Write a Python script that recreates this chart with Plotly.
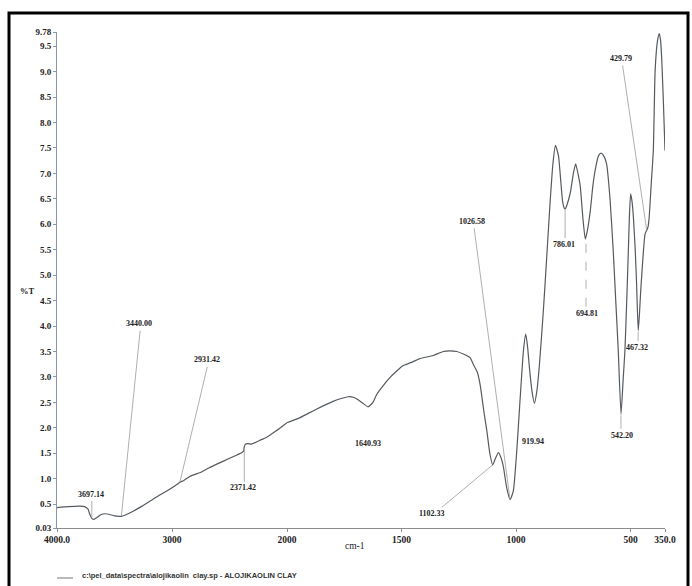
import plotly.graph_objects as go

# ---------------- data ----------------
wn_high = [4000, 3900, 3800, 3760, 3730, 3715, 3697, 3680, 3650, 3620, 3580, 3550, 3500, 3460,
           3440, 3400, 3338, 3260, 3190, 3120, 3042, 2980, 2931, 2900, 2840, 2754, 2680, 2606,
           2500, 2395, 2378, 2371, 2360, 2340, 2310, 2296, 2240, 2180, 2100, 2000]
t_high = [0.43, 0.45, 0.46, 0.45, 0.40, 0.30, 0.22, 0.20, 0.24, 0.29, 0.31, 0.30, 0.27, 0.26,
          0.26, 0.29, 0.36, 0.46, 0.56, 0.66, 0.76, 0.85, 0.93, 0.96, 1.05, 1.12, 1.21, 1.29,
          1.40, 1.51, 1.54, 1.63, 1.68, 1.69, 1.68, 1.69, 1.75, 1.81, 1.93, 2.10]

wn_low = [2000, 1943, 1870, 1799, 1760, 1734, 1710, 1690, 1665, 1646, 1625, 1608, 1580, 1550,
          1520, 1494, 1460, 1420, 1362, 1318, 1290, 1259, 1230, 1201, 1187, 1170, 1157, 1140,
          1128, 1114, 1102, 1090, 1077, 1065, 1055, 1041, 1026, 1012, 997, 983, 968, 958, 950,
          942, 930, 920, 910, 899, 881, 867, 852, 839, 828, 815, 805, 797, 790, 786, 778, 763,
          750, 740, 730, 720, 708, 698, 690, 676, 665, 655, 640, 629, 618, 605, 590, 576, 565,
          554, 542, 532, 525, 517, 510, 505, 500, 494, 488, 480, 474, 467, 462, 456, 447, 437,
          430, 424, 419, 410, 401, 393, 383, 375, 369, 364, 357, 350]
t_low = [2.10, 2.20, 2.37, 2.52, 2.58, 2.61, 2.60, 2.55, 2.47, 2.41, 2.50, 2.66, 2.83, 2.99,
         3.12, 3.22, 3.28, 3.36, 3.42, 3.50, 3.51, 3.50, 3.45, 3.38, 3.25, 3.10, 2.85, 2.30,
         1.95, 1.48, 1.27, 1.40, 1.51, 1.40, 1.22, 0.82, 0.59, 0.76, 1.55, 2.53, 3.51, 3.84, 3.60,
         3.19, 2.70, 2.48, 2.70, 3.19, 4.30, 5.30, 6.40, 7.20, 7.55, 7.35, 6.85, 6.45, 6.32, 6.30, 6.38, 6.63,
         7.00, 7.19, 7.00, 6.75, 6.10, 5.71, 5.85, 6.27, 6.75, 7.06, 7.35, 7.40, 7.35, 7.19, 6.50, 5.48, 4.50,
         3.51, 2.27, 3.00, 3.51, 4.50, 5.48, 6.20, 6.60, 6.45, 6.14, 5.50, 4.83, 3.91, 4.20, 4.69, 5.30, 5.81,
         5.88, 5.95, 6.14, 6.80, 7.45, 9.03, 9.60, 9.75, 9.60, 9.22, 8.40, 7.45]

x_ticks_high = [4000, 3000, 2000]
x_ticktext_high = ["4000.0", "3000", "2000"]
x_ticks_low = [1500, 1000, 500, 350]
x_ticktext_low = ["1500", "1000", "500", "350.0"]
y_ticks = [0.03, 0.5, 1.0, 1.5, 2.0, 2.5, 3.0, 3.5, 4.0, 4.5, 5.0, 5.5, 6.0, 6.5, 7.0, 7.5,
           8.0, 8.5, 9.0, 9.5, 9.78]
y_ticktext = ["0.03", "0.5", "1.0", "1.5", "2.0", "2.5", "3.0", "3.5", "4.0", "4.5", "5.0",
              "5.5", "6.0", "6.5", "7.0", "7.5", "8.0", "8.5", "9.0", "9.5", "9.78"]

peak_text = ["3697.14", "3440.00", "2931.42", "2371.42", "1640.93", "1102.33", "1026.58",
             "919.94", "786.01", "694.81", "542.20", "467.32", "429.79"]
peak_wn = [3697.14, 3440.00, 2931.42, 2371.42, 1640.93, 1102.33, 1026.58,
           919.94, 786.01, 694.81, 542.20, 467.32, 429.79]
peak_t = [0.24, 0.27, 0.93, 1.60, 2.41, 1.27, 0.59, 2.48, 6.28, 5.69, 2.25, 3.89, 5.88]

# label placement (layout) : label x, label y, leader start x, leader start y (None = no leader)
label_pos = [
    (3704, 0.68, 3697.14, 0.56),
    (3286, 4.05, 3277, 3.91),
    (2693, 3.34, 2693, 3.20),
    (2380, 0.82, 2371.42, 0.93),
    (1646, 1.70, None, None),
    (1367, 0.32, 1323, 0.44),
    (1192, 6.05, 1183, 5.92),
    (926, 1.74, None, None),
    (791, 5.60, 786.01, 5.73),
    (691, 4.24, 694.81, 4.38),
    (537, 1.84, 542.20, 1.98),
    (471, 3.57, 467.32, 3.71),
    (542, 9.26, 535, 9.12),
]

# ---------------- figure ----------------
W, H = 692, 586
L, R, T, B = 57, 27, 32, 58
pw, ph = W - L - R, H - T - B
split = 230 / pw

def px(x):
    return (x - L) / pw

def py(y):
    return (H - B - y) / ph

curve_col = "#555a60"
fig = go.Figure()
fig.add_trace(go.Scatter(x=wn_high, y=t_high, mode="lines", xaxis="x", yaxis="y",
                         line=dict(color=curve_col, width=1.2, shape="spline", smoothing=0.5),
                         showlegend=False, hoverinfo="skip"))
fig.add_trace(go.Scatter(x=wn_low, y=t_low, mode="lines", xaxis="x2", yaxis="y",
                         line=dict(color=curve_col, width=1.2, shape="spline", smoothing=0.5),
                         showlegend=False, hoverinfo="skip"))

tickfont = dict(family="Liberation Serif", size=9.5, color="#222", weight="bold")
axcommon = dict(showgrid=False, zeroline=False, showline=True, linecolor="#8c8c8c", linewidth=1,
                ticks="outside", ticklen=3, tickcolor="#8c8c8c", tickfont=tickfont, anchor="y")
fig.update_layout(
    width=W, height=H, margin=dict(l=L, r=R, t=T, b=B),
    paper_bgcolor="white", plot_bgcolor="white",
    xaxis=dict(domain=[0, split], range=[4000, 2000], tickvals=x_ticks_high,
               ticktext=x_ticktext_high, **axcommon),
    xaxis2=dict(domain=[split, 1], range=[2000, 350], tickvals=x_ticks_low,
                ticktext=x_ticktext_low, **axcommon),
    yaxis=dict(range=[0.03, 9.78], tickvals=y_ticks, ticktext=y_ticktext, showgrid=False,
               zeroline=False, showline=True, linecolor="#8a96ad", linewidth=1, ticks="outside",
               ticklen=3, tickcolor="#8a96ad", tickfont=dict(family="Liberation Serif", size=9,
                                                             color="#222", weight="bold")),
)

def xref_for(w):
    return "x" if w >= 2000 else "x2"

lab_font = dict(family="Liberation Serif", size=8, color="#222", weight="bold")
for txt, w, t, (lx, ly, sx, sy) in zip(peak_text, peak_wn, peak_t, label_pos):
    xr = xref_for(lx)
    fig.add_annotation(x=lx, y=ly, xref=xr, yref="y", text=txt, showarrow=False,
                       font=lab_font, xanchor="center", yanchor="middle")
    if sx is not None:
        fig.add_shape(type="line", xref=xref_for(w), yref="y", x0=sx, y0=sy, x1=w, y1=t,
                      line=dict(color="#9a9a9a", width=0.8,
                                dash="dash" if txt == "694.81" else "solid"))

# axis titles
fig.add_annotation(x=px(18), y=py(291), xref="paper", yref="paper", text="%T", showarrow=False,
                   xanchor="left", yanchor="middle",
                   font=dict(family="Liberation Serif", size=8.5, color="#222", weight="bold"))
fig.add_annotation(x=px(355), y=py(553), xref="paper", yref="paper", text="cm-1",
                   showarrow=False, font=dict(family="Liberation Serif", size=9.5, color="#222"))

# legend-like caption
fig.add_shape(type="line", xref="paper", yref="paper", x0=px(57), x1=px(73), y0=py(578),
              y1=py(578), line=dict(color="#777", width=1))
fig.add_annotation(x=px(80), y=py(575), xref="paper", yref="paper",
                   text="c:\\pel_data\\spectra\\alojikaolin  clay.sp - ALOJIKAOLIN CLAY",
                   showarrow=False, xanchor="left", yanchor="middle",
                   font=dict(family="Liberation Sans", size=7.5, color="#333", weight="bold"))

# outer frame
fig.add_shape(type="rect", xref="paper", yref="paper", x0=px(9), x1=px(688), y0=py(592),
              y1=py(13), line=dict(color="black", width=3), fillcolor="rgba(0,0,0,0)")

fig.write_html("out.html")
